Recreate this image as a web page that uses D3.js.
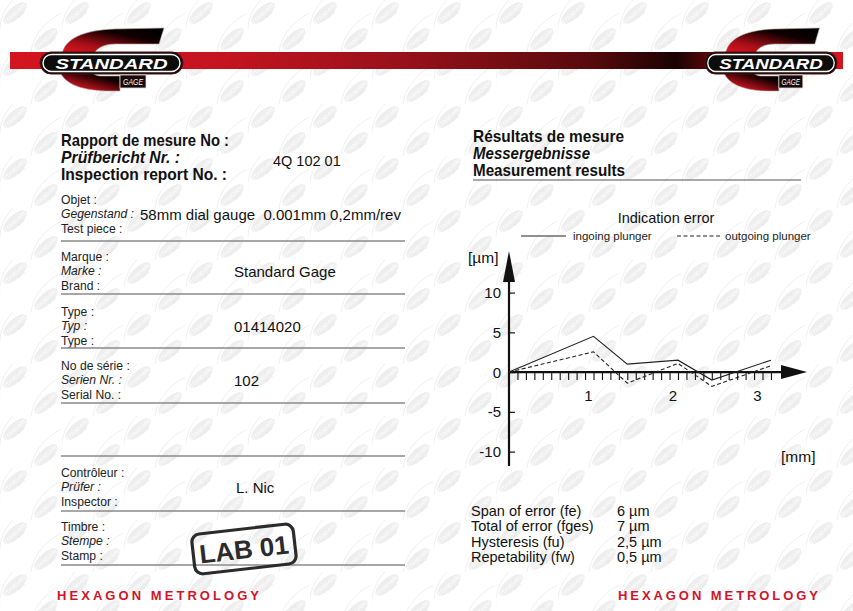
<!DOCTYPE html>
<html><head><meta charset="utf-8">
<script src="https://cdn.jsdelivr.net/npm/d3@7"></script>
<style>html,body{margin:0;padding:0;background:#fff}svg{display:block}</style>
</head><body>
<svg id="c" width="853" height="611"></svg>
<script>
// ---------- data ----------
const positionsMm = [0, 1.0, 1.4, 2.0, 2.4, 3.1];
const ingoingError = [0, 4.5, 1.0, 1.5, -1.0, 1.5];
const outgoingError = [0, 2.55, -1.4, 1.1, -1.8, 0.8];
const seriesNames = ["ingoing plunger", "outgoing plunger"];
const yTickValues = [-10, -5, 0, 5, 10];
const xTickLabels = [1, 2, 3];
const minorTickValues = d3.range(1, 32).map(i => i / 10);
const chartTitle = "Indication error";
const statLabels = ["Span of error (fe)", "Total of error (fges)", "Hysteresis (fu)", "Repetability (fw)"];
const statValues = ["6 µm", "7 µm", "2,5 µm", "0,5 µm"];
const fieldFr = ["Objet :", "Marque :", "Type :", "No de série :", "", "Contrôleur :", "Timbre :"];
const fieldDe = ["Gegenstand :", "Marke :", "Typ :", "Serien Nr. :", "", "Prüfer :", "Stempe :"];
const fieldEn = ["Test piece :", "Brand :", "Type :", "Serial No. :", "", "Inspector :", "Stamp :"];
const fieldValues = ["58mm dial gauge  0.001mm 0,2mm/rev", "Standard Gage", "01414020", "102", "", "L. Nic", ""];
const reportTitle = ["Rapport de mesure No :", "Prüfbericht Nr. :", "Inspection report No. :"];
const reportNo = "4Q 102 01";
const resultTitle = ["Résultats de mesure", "Messergebnisse", "Measurement results"];

// ---------- setup ----------
const svg = d3.select("#c");
const SANS = "'Liberation Sans', Arial, Helvetica, sans-serif";
const defs = svg.append("defs");

// watermark pattern
const pat = defs.append("pattern").attr("id", "wm").attr("patternUnits", "userSpaceOnUse")
  .attr("width", 62).attr("height", 52);
[[15, 13], [46, 39]].forEach(([px, py]) => {
  const m = pat.append("g").attr("transform", `translate(${px},${py}) rotate(-42)`);
  m.append("path").attr("d", "M-26,6 C-12,-12 12,-14 28,-9").attr("fill", "none").attr("stroke", "#e8e8e8").attr("stroke-width", 0.7);
  m.append("ellipse").attr("rx", 15).attr("ry", 6).attr("fill", "#eeeeee");
  m.append("text").attr("text-anchor", "middle").attr("dy", 2).attr("font-size", 5.5)
    .attr("font-weight", "bold").attr("font-style", "italic").attr("font-family", SANS)
    .attr("fill", "#fbfbfb").text("STANDARD");
  m.append("text").attr("text-anchor", "middle").attr("x", 4).attr("dy", 6.5).attr("font-size", 3)
    .attr("font-family", SANS).attr("fill", "#e3e3e3").text("GAGE");
});
svg.append("rect").attr("width", 853).attr("height", 611).attr("fill", "#fff");
svg.append("rect").attr("width", 853).attr("height", 611).attr("fill", "url(#wm)");

// header band
const band = defs.append("linearGradient").attr("id", "band").attr("x1", 0).attr("x2", 1);
[[0, "#d4141f"], [0.25, "#c51420"], [0.48, "#96101a"], [0.7, "#560a0c"], [0.8, "#1a0202"], [0.86, "#7a0a10"], [0.93, "#c8141e"], [1, "#d4141f"]]
  .forEach(([o, c]) => band.append("stop").attr("offset", o).attr("stop-color", c));
svg.append("rect").attr("x", 10).attr("y", 52).attr("width", 833).attr("height", 17).attr("fill", "url(#band)");

const cgrad = defs.append("linearGradient").attr("id", "cg").attr("x1", 0.9).attr("y1", 0).attr("x2", 0.1).attr("y2", 1);
[[0, "#000"], [0.3, "#120000"], [0.7, "#a80f19"], [1, "#e0151f"]]
  .forEach(([o, c]) => cgrad.append("stop").attr("offset", o).attr("stop-color", c));

function logo(x, y, w) {
  const s = w / 143;
  const g = svg.append("g").attr("transform", `translate(${x},${y}) scale(${s},1)`);
  g.append("path").attr("d", "M22,3 C24,-14 45,-22 75,-23 L124,-24 L119,-8 L76,-8 C63,-8 57,-4 53,3 Z")
    .attr("fill", "url(#cg)").attr("stroke", "#aaa").attr("stroke-width", 0.6);
  g.append("path").attr("d", "M20,19 C24,33 45,39 70,39 L80,39 L80,24 L62,24 C56,24 53,22 51,19 Z")
    .attr("fill", "url(#cg)").attr("stroke", "#aaa").attr("stroke-width", 0.6);
  g.append("rect").attr("x", 0).attr("y", 0).attr("width", 143).attr("height", 22).attr("rx", 11)
    .attr("fill", "#0d0d0d").attr("stroke", "#5a0a0a").attr("stroke-width", 1);
  g.append("rect").attr("x", 3).attr("y", 2.5).attr("width", 137).attr("height", 17).attr("rx", 8.5)
    .attr("fill", "none").attr("stroke", "#fff").attr("stroke-width", 1.4);
  g.append("text").attr("x", 71.5).attr("y", 16.8).attr("text-anchor", "middle")
    .attr("font-family", SANS).attr("font-weight", "bold").attr("font-style", "italic").attr("font-size", 15.5)
    .attr("textLength", 112).attr("lengthAdjust", "spacingAndGlyphs").attr("fill", "#fff").text("STANDARD");
  g.append("rect").attr("x", 80).attr("y", 23).attr("width", 26).attr("height", 13)
    .attr("fill", "#1a0a0a").attr("stroke", "#ddd").attr("stroke-width", 0.8);
  g.append("text").attr("x", 93).attr("y", 33).attr("text-anchor", "middle")
    .attr("font-family", SANS).attr("font-style", "italic").attr("font-size", 8.5)
    .attr("textLength", 20).attr("lengthAdjust", "spacingAndGlyphs")
    .attr("fill", "#fff").text("GAGE");
}
logo(40, 52, 143);
logo(705, 52, 132);

// ---------- left column ----------
const L = svg.append("g");
const reportW = [168, 119, 166];
reportTitle.forEach((t, i) => {
  L.append("text").attr("x", 61).attr("y", 146 + i * 17).attr("font-family", SANS)
    .attr("font-weight", "bold").attr("font-style", i === 1 ? "italic" : "normal")
    .attr("font-size", 16.3).attr("textLength", reportW[i]).attr("lengthAdjust", "spacingAndGlyphs")
    .attr("fill", "#111").text(t);
});
L.append("text").attr("x", 273).attr("y", 166).attr("font-family", SANS).attr("font-size", 14.5)
  .attr("fill", "#111").text(reportNo);

const firstRow = [199, 256, 311, 365, null, 472, 526];
const sepY = [241, 294, 348, 403, 456, 511, 565];
const valX = [140, 234, 234, 234, 234, 236, 234];
fieldFr.forEach((fr, i) => {
  if (firstRow[i] !== null) {
    [fr, fieldDe[i], fieldEn[i]].forEach((t, j) => {
      L.append("text").attr("transform", `translate(61,${firstRow[i] + j * 14.5 + 4.5}) scale(0.9,1)`)
        .attr("font-family", SANS).attr("font-size", 13.5)
        .attr("font-style", j === 1 ? "italic" : "normal").attr("fill", "#222").text(t);
    });
    if (fieldValues[i]) {
      L.append("text").attr("x", valX[i]).attr("y", firstRow[i] + 14.5 + 6)
        .attr("font-family", SANS).attr("font-size", 15).attr("fill", "#111")
        .attr("xml:space", "preserve").style("white-space", "pre").text(fieldValues[i]);
    }
  }
  L.append("line").attr("x1", 61).attr("x2", 405).attr("y1", sepY[i]).attr("y2", sepY[i])
    .attr("stroke", "#8a8a8a").attr("stroke-width", 1.3);
});

// stamp
const st = svg.append("g").attr("transform", "translate(244,549) rotate(-6.5)");
st.append("rect").attr("x", -51).attr("y", -20).attr("width", 102).attr("height", 40).attr("rx", 8)
  .attr("fill", "none").attr("stroke", "#2b2b2b").attr("stroke-width", 3.2);
st.append("text").attr("text-anchor", "middle").attr("y", 9.5).attr("font-family", SANS)
  .attr("font-weight", "bold").attr("font-size", 26).attr("fill", "#2b2b2b").text("LAB 01");

// footer
[[57, 202], [618, 200]].forEach(([x, w]) => {
  svg.append("text").attr("x", x).attr("y", 600).attr("font-family", SANS).attr("font-weight", "bold")
    .attr("font-size", 13).attr("fill", "#d0142a").attr("textLength", w).attr("lengthAdjust", "spacing")
    .text("HEXAGON METROLOGY");
});

// ---------- right column ----------
const R = svg.append("g");
const resultW = [151, 117, 152];
resultTitle.forEach((t, i) => {
  R.append("text").attr("x", 473).attr("y", 142 + i * 17).attr("font-family", SANS)
    .attr("font-weight", "bold").attr("font-style", i === 1 ? "italic" : "normal")
    .attr("font-size", 16.3).attr("textLength", resultW[i]).attr("lengthAdjust", "spacingAndGlyphs")
    .attr("fill", "#111").text(t);
});
R.append("line").attr("x1", 473).attr("x2", 801).attr("y1", 180).attr("y2", 180)
  .attr("stroke", "#555").attr("stroke-width", 1.2);

statLabels.forEach((t, i) => {
  const y = 516 + i * 15.3;
  R.append("text").attr("x", 471).attr("y", y).attr("font-family", SANS).attr("font-size", 14.5).attr("fill", "#111").text(t);
  R.append("text").attr("x", 617).attr("y", y).attr("font-family", SANS).attr("font-size", 14.5).attr("fill", "#111").text(statValues[i]);
});

// ---------- chart ----------
const x = d3.scaleLinear().domain([0, 3]).range([509, 509 + 3 * 84.5]);
const y = d3.scaleLinear().domain([-10, 10]).range([451.6, 292.6]);
const C = svg.append("g");

C.append("text").attr("x", 666).attr("y", 223).attr("text-anchor", "middle").attr("font-family", SANS)
  .attr("font-size", 14.5).attr("fill", "#111").text(chartTitle);
// legend
const legX = [[521, 566, 573], [677, 722, 725]];
seriesNames.forEach((n, i) => {
  C.append("line").attr("x1", legX[i][0]).attr("x2", legX[i][1]).attr("y1", 236).attr("y2", 236)
    .attr("stroke", "#222").attr("stroke-width", 1.1).attr("stroke-dasharray", i ? "4,2.5" : null);
  C.append("text").attr("x", legX[i][2]).attr("y", 240).attr("font-family", SANS).attr("font-size", 11.5)
    .attr("fill", "#222").text(n);
});

// y axis
const yAxis = d3.axisRight(y).tickValues(yTickValues).tickSize(6).tickFormat("");
const yg = C.append("g").attr("transform", `translate(${x(0)},0)`).call(yAxis);
yg.select(".domain").remove();
yg.selectAll(".tick line").attr("stroke", "#111").attr("stroke-width", 1.2);
C.selectAll(".ylab").data(yTickValues).join("text").attr("class", "ylab")
  .attr("x", x(0) - 8).attr("y", d => y(d)).attr("dy", "0.36em").attr("text-anchor", "end")
  .attr("font-family", SANS).attr("font-size", 15).attr("fill", "#111").text(d => d);
C.append("line").attr("x1", x(0)).attr("x2", x(0)).attr("y1", 280).attr("y2", 466)
  .attr("stroke", "#111").attr("stroke-width", 2.2);
C.append("path").attr("d", `M${x(0)},251 L${x(0) + 6},282 L${x(0) - 6},282 Z`).attr("fill", "#111");

// x axis
const xAxis = d3.axisBottom(x).tickValues(minorTickValues).tickSize(8).tickFormat("");
const xg = C.append("g").attr("transform", `translate(0,${y(0)})`).call(xAxis);
xg.select(".domain").remove();
xg.selectAll(".tick line").attr("stroke", "#111").attr("stroke-width", 1.1);
C.append("line").attr("x1", x(0)).attr("x2", 785).attr("y1", y(0)).attr("y2", y(0))
  .attr("stroke", "#111").attr("stroke-width", 2.4);
C.append("path").attr("d", `M807,${y(0)} L781,${y(0) - 7} L781,${y(0) + 7} Z`).attr("fill", "#111");
C.selectAll(".xlab").data(xTickLabels).join("text").attr("class", "xlab")
  .attr("x", d => x(d) - 5).attr("y", 401).attr("text-anchor", "middle")
  .attr("font-family", SANS).attr("font-size", 15).attr("fill", "#111").text(d => d);

C.append("text").attr("x", 468).attr("y", 263).attr("font-family", SANS).attr("font-size", 15.5).attr("fill", "#111").text("[µm]");
C.append("text").attr("x", 781).attr("y", 462).attr("font-family", SANS).attr("font-size", 15.5).attr("fill", "#111").text("[mm]");

// data lines
const line = d3.line().x(d => x(d[0])).y(d => y(d[1]));
C.append("path").datum(positionsMm.map((p, i) => [p, ingoingError[i]])).attr("d", line)
  .attr("fill", "none").attr("stroke", "#222").attr("stroke-width", 1.1);
C.append("path").datum(positionsMm.map((p, i) => [p, outgoingError[i]])).attr("d", line)
  .attr("fill", "none").attr("stroke", "#222").attr("stroke-width", 1.1).attr("stroke-dasharray", "4,2.5");
</script>
</body></html>
